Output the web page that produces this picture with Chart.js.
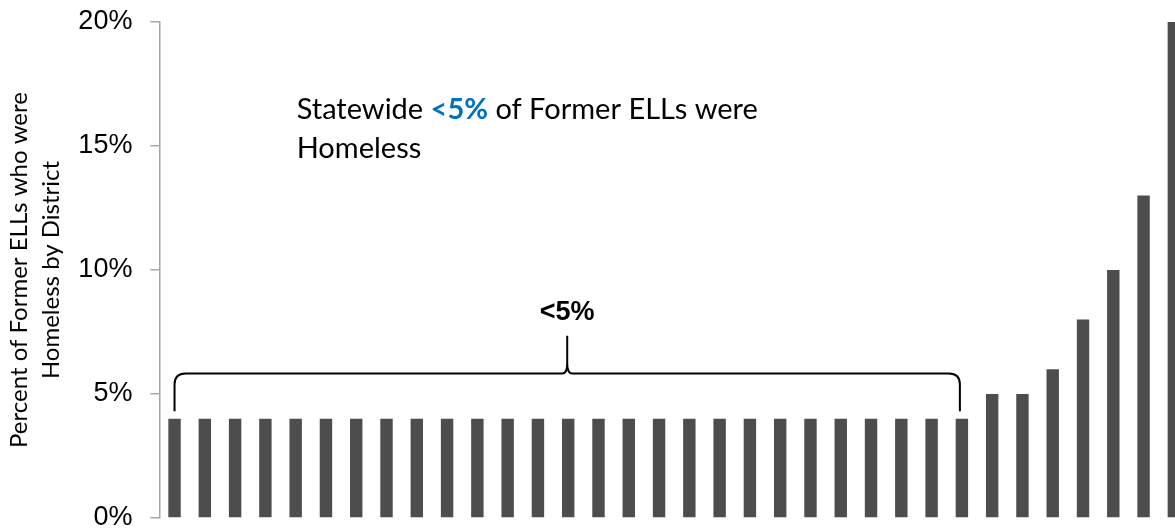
<!DOCTYPE html>
<html>
<head>
<meta charset="utf-8">
<script src="https://cdn.jsdelivr.net/npm/chart.js@4.4.0/dist/chart.umd.min.js"></script>
<style>
  html, body { margin: 0; padding: 0; background: #fff; overflow: hidden; }
  #wrap { width: 1189px; height: 531px; }
</style>
</head>
<body>
<div id="wrap"><canvas id="homelessChart" width="1189" height="531"></canvas></div>
<script>
// Former ELLs who were homeless, one bar per district (sorted ascending)
const homelessPct = [
  4, 4, 4, 4, 4, 4, 4, 4, 4, 4, 4, 4, 4, 4, 4, 4, 4, 4, 4, 4, 4, 4, 4, 4, 4, 4, 4,
  5, 5, 6, 8, 10, 13, 20
];
const districts = homelessPct.map((v, i) => 'District ' + (i + 1));
const yTicks = [0, 5, 10, 15, 20];
const axisTitle = ['Percent of Former ELLs who were', 'Homeless by District'];

// annotation text
const noteParts = ['Statewide ', '<5%', ' of Former ELLs were'];
const noteLine2 = 'Homeless';
const braceLabel = '<5%';
const braceFrom = 0;   // first district under the brace
const braceTo = 26;    // last district under the brace

const BAR = '#4d4d4d';
const AXIS = '#a6a6a6';

// brace + statewide note, placed with the chart's own scales
const notesPlugin = {
  id: 'notes',
  afterDatasetsDraw(chart) {
    const { ctx } = chart;
    const x = chart.scales.x, y = chart.scales.y;
    const x0 = x.getPixelForValue(braceFrom);
    const x1 = x.getPixelForValue(braceTo) - 2;
    const xm = (x0 + x1) / 2;
    const yEnd = y.getPixelForValue(4.3);
    const yBar = y.getPixelForValue(5.83);
    const yTip = y.getPixelForValue(7.35);
    const r = 11;

    ctx.save();
    ctx.strokeStyle = '#000';
    ctx.lineWidth = 2;
    ctx.lineJoin = 'round';
    ctx.beginPath();
    ctx.moveTo(x0, yEnd);
    ctx.lineTo(x0, yBar + r);
    ctx.quadraticCurveTo(x0, yBar, x0 + r, yBar);
    ctx.lineTo(xm - 5, yBar);
    ctx.quadraticCurveTo(xm, yBar, xm, yBar - 10);
    ctx.lineTo(xm, yTip);
    ctx.moveTo(xm, yBar - 10);
    ctx.quadraticCurveTo(xm, yBar, xm + 5, yBar);
    ctx.lineTo(x1 - r, yBar);
    ctx.quadraticCurveTo(x1, yBar, x1, yBar + r);
    ctx.lineTo(x1, yEnd);
    ctx.stroke();

    // label over the brace
    ctx.fillStyle = '#000';
    ctx.font = 'bold 27px "Liberation Sans", Arial, sans-serif';
    ctx.textAlign = 'center';
    ctx.textBaseline = 'middle';
    ctx.fillText(braceLabel, xm, y.getPixelForValue(8.3));

    // statewide note
    const tx = x.getPixelForValue(4) + 1;
    const ty1 = y.getPixelForValue(16.08);
    const ty2 = y.getPixelForValue(14.52);
    const plain = '29px Lato, "Open Sans", sans-serif';
    const bold = 'bold 29px Lato, "Open Sans", sans-serif';
    ctx.textAlign = 'left';
    ctx.textBaseline = 'alphabetic';
    let cx = tx;
    noteParts.forEach((part, i) => {
      ctx.font = i === 1 ? bold : plain;
      ctx.fillStyle = i === 1 ? '#0070c0' : '#000';
      ctx.fillText(part, cx, ty1);
      cx += ctx.measureText(part).width;
    });
    ctx.font = plain;
    ctx.fillStyle = '#000';
    ctx.fillText(noteLine2, tx, ty2);
    ctx.restore();
  }
};

const ctx = document.getElementById('homelessChart').getContext('2d');
new Chart(ctx, {
  type: 'bar',
  data: {
    labels: districts,
    datasets: [{
      data: homelessPct,
      backgroundColor: BAR,
      borderWidth: 0,
      barPercentage: 0.41,
      categoryPercentage: 1
    }]
  },
  options: {
    responsive: false,
    animation: false,
    devicePixelRatio: 1,
    layout: { padding: { top: 22, bottom: 13, left: 0, right: 0 } },
    plugins: {
      legend: { display: false },
      tooltip: { enabled: false }
    },
    scales: {
      x: { display: false },
      y: {
        min: 0,
        max: 20,
        afterFit: (scale) => {
          scale.width = 159.4;
          scale.paddingTop = 0;
          scale.paddingBottom = 0;
        },
        afterBuildTicks: (scale) => { scale.ticks = yTicks.map(v => ({ value: v })); },
        border: { display: true, color: AXIS, width: 1.5 },
        grid: { drawOnChartArea: false, drawTicks: true, tickLength: 9, color: AXIS, lineWidth: 1.5 },
        ticks: {
          padding: 18,
          color: '#000',
          font: { family: '"Liberation Sans", Arial, sans-serif', size: 27 },
          callback: (v) => v + '%'
        },
        title: {
          display: true,
          text: axisTitle,
          color: '#000',
          padding: { top: 3, bottom: 0 },
          font: { family: 'Lato, "Open Sans", sans-serif', size: 24, lineHeight: '32px' }
        }
      }
    }
  },
  plugins: [notesPlugin]
});
</script>
</body>
</html>
